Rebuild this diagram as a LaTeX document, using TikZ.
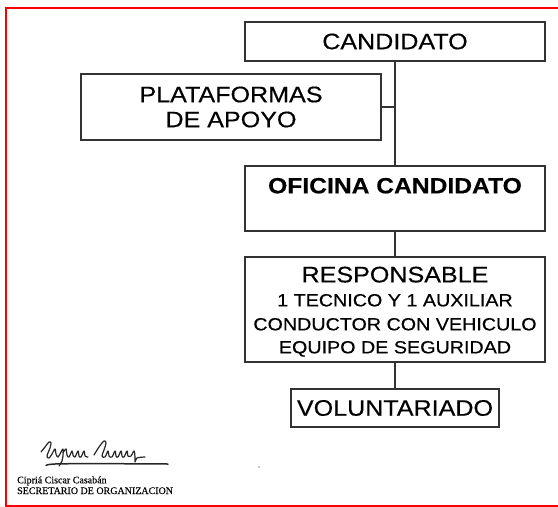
\documentclass[tikz,border=0pt]{standalone}
\usepackage{fontspec}
\setmainfont{Liberation Sans}[FakeStretch=1.12, FakeBold=0.4]
\newfontfamily\sigfont{Liberation Serif}[FakeBold=0.3]
\tikzset{
  box/.style={draw=black!80, line width=1.3pt, fill=white, inner sep=0pt, align=center, font=\fontsize{22.4}{25}\selectfont},
  conn/.style={draw=black!80, line width=1.2pt},
  sig/.style={draw=black!85, line width=1.2pt, line cap=round, line join=round},
  sigtext/.style={font=\sigfont\fontsize{10}{11}\selectfont, anchor=base west, inner sep=0pt}
}
\begin{document}
\begin{tikzpicture}[x=1pt,y=-1pt]
\useasboundingbox (0,0) rectangle (558,507);
% red frame
\draw[red, line width=2pt] (560,7.7) -- (5.7,7.7) -- (5.7,505.8) -- (560,505.8);
\draw[red, line width=2.6pt] (5.7,505.8) -- (560,505.8);
% boxes
\node[box, minimum width=300, minimum height=39] (cand) at (395,41.5) {CANDIDATO};
\node[box, minimum width=300, minimum height=66] (plat) at (231,107) {PLATAFORMAS\\DE APOYO};
\node[box, minimum width=300, minimum height=65] (ofi) at (395,198.5) {};
\node[anchor=base, inner sep=0pt, font=\fontsize{22}{25}\selectfont\bfseries] (ofitext) at (395,193.3) {OFICINA CANDIDATO};
\node[box, minimum width=300, minimum height=105] (resp) at (395,309.5) {\rule{0pt}{20pt}RESPONSABLE\\[-1pt]
  {\fontsize{17.6}{23}\selectfont 1 TECNICO Y 1 AUXILIAR}\\[-1pt]
  {\fontsize{17.6}{23}\selectfont CONDUCTOR CON VEHICULO}\\[-2pt]
  {\fontsize{17.6}{23}\selectfont EQUIPO DE SEGURIDAD}};
\node[box, minimum width=208, minimum height=38] (vol) at (395,408) {VOLUNTARIADO};
% connectors
\coordinate (j) at (cand.south |- plat.east);
\draw[conn] (cand.south) -- (ofi.north);
\draw[conn] (plat.east) -- (j);
\draw[conn] (ofi.south) -- (resp.north);
\draw[conn] (resp.south) -- (vol.north);
% signature
\draw[sig] plot[smooth, tension=0.6] coordinates {(41,452) (45,447) (49,442) (51,443) (50,448) (47,456) (49,458) (52,454) (55,449) (56,454) (58,457) (61,452) (63,449) (63,456) (62,461) (59,466)};
\draw[sig] plot[smooth, tension=0.6] coordinates {(63,453) (66,449) (67,455) (69,457) (72,451) (73,455) (75,457) (78,451) (79,456) (81,457) (84,451) (85,456) (88,457)};
\draw[sig] plot[smooth, tension=0.6] coordinates {(94,455) (99,447) (104,441) (106,443) (104,450) (102,456) (105,457) (108,451) (109,456) (112,457) (115,451) (116,456) (118,457) (121,451) (122,456) (124,457) (127,451) (128,456) (131,456) (134,451) (135,457) (135,462) (137,458) (145,457)};
\draw[sig, line width=1.5pt] (46,465.5) .. controls (48,463.5) and (60,463.8) .. (100,463.6) -- (168,464);
\fill[black!45] (259,467) circle (0.8);
\node[sigtext] (name) at (17,483.3) {Cipriá Ciscar Casabán};
\node[sigtext] (role) at (17,494) {SECRETARIO DE ORGANIZACION};
\end{tikzpicture}
\end{document}
